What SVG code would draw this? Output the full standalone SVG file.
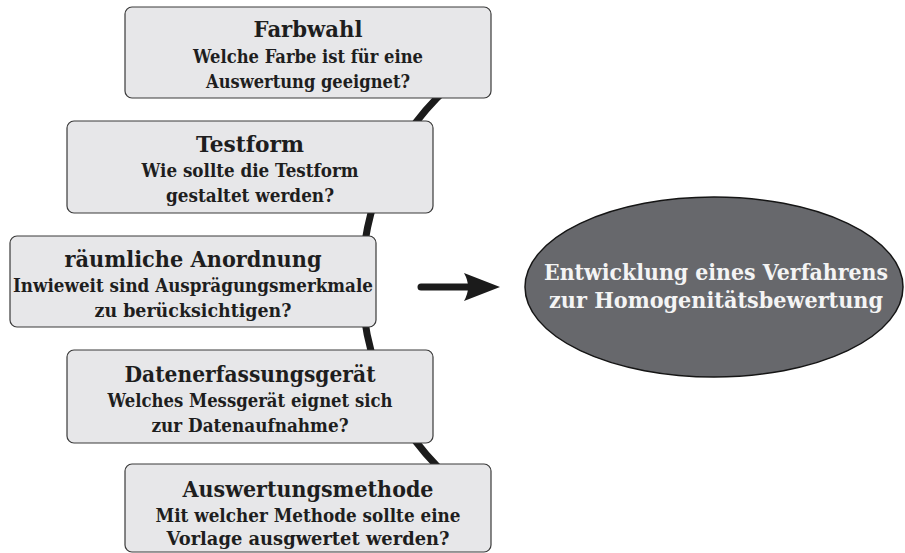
<svg xmlns="http://www.w3.org/2000/svg" width="905" height="553" viewBox="0 0 905 553">
<style>
.box{fill:#e7e7e9;stroke:#3a3a3a;stroke-width:1.2}
.t{font-family:"DejaVu Serif","Liberation Serif",serif;font-weight:bold;fill:#1e1e1e;text-anchor:middle}
.h{font-size:23px}
.s{font-size:19px}
.w{font-family:"DejaVu Serif","Liberation Serif",serif;font-weight:bold;fill:#f4f4f4;font-size:23px;text-anchor:middle}
.arc{fill:none;stroke:#1b1b1b;stroke-width:7}
</style>
<rect width="905" height="553" fill="#ffffff"/>
<g id="connectors">
<path class="arc" d="M484,60 A263,263 0 0,0 484,504"/>
<line x1="421" y1="287" x2="472" y2="287" stroke="#1b1b1b" stroke-width="7" stroke-linecap="round"/>
<path d="M500,287 L464,273 Q472,287 464,301 Z" fill="#1b1b1b"/>
</g>
<g id="farbwahl">
<rect class="box" x="125" y="7" width="366" height="91" rx="7"/>
<text class="t h" x="308" y="37" textLength="109" lengthAdjust="spacingAndGlyphs">Farbwahl</text>
<text class="t s" x="308" y="63" textLength="230" lengthAdjust="spacingAndGlyphs">Welche Farbe ist für eine</text>
<text class="t s" x="308" y="88" textLength="204" lengthAdjust="spacingAndGlyphs">Auswertung geeignet?</text>
</g>
<g id="testform">
<rect class="box" x="67" y="121" width="366" height="92" rx="7"/>
<text class="t h" x="250" y="152" textLength="108" lengthAdjust="spacingAndGlyphs">Testform</text>
<text class="t s" x="250" y="177" textLength="217" lengthAdjust="spacingAndGlyphs">Wie sollte die Testform</text>
<text class="t s" x="250" y="202" textLength="168" lengthAdjust="spacingAndGlyphs">gestaltet werden?</text>
</g>
<g id="anordnung">
<rect class="box" x="10" y="236" width="366" height="91" rx="7"/>
<text class="t h" x="193" y="267" textLength="257" lengthAdjust="spacingAndGlyphs">räumliche Anordnung</text>
<text class="t s" x="193" y="292" textLength="360" lengthAdjust="spacingAndGlyphs">Inwieweit sind Ausprägungsmerkmale</text>
<text class="t s" x="193" y="317" textLength="197" lengthAdjust="spacingAndGlyphs">zu berücksichtigen?</text>
</g>
<g id="geraet">
<rect class="box" x="67" y="350" width="366" height="93" rx="7"/>
<text class="t h" x="250" y="382" textLength="251" lengthAdjust="spacingAndGlyphs">Datenerfassungsgerät</text>
<text class="t s" x="250" y="407" textLength="285" lengthAdjust="spacingAndGlyphs">Welches Messgerät eignet sich</text>
<text class="t s" x="250" y="432" textLength="197" lengthAdjust="spacingAndGlyphs">zur Datenaufnahme?</text>
</g>
<g id="methode">
<rect class="box" x="125" y="464" width="366" height="88" rx="7"/>
<text class="t h" x="308" y="497" textLength="251" lengthAdjust="spacingAndGlyphs">Auswertungsmethode</text>
<text class="t s" x="308" y="522" textLength="305" lengthAdjust="spacingAndGlyphs">Mit welcher Methode sollte eine</text>
<text class="t s" x="308" y="545" textLength="283" lengthAdjust="spacingAndGlyphs">Vorlage ausgwertet werden?</text>
</g>
<g id="ziel">
<ellipse cx="714" cy="287" rx="189" ry="90" fill="#67686c" stroke="#151515" stroke-width="1.5"/>
<text class="w" x="716" y="280" textLength="344" lengthAdjust="spacingAndGlyphs">Entwicklung eines Verfahrens</text>
<text class="w" x="716" y="308" textLength="334" lengthAdjust="spacingAndGlyphs">zur Homogenitätsbewertung</text>
</g>
</svg>
